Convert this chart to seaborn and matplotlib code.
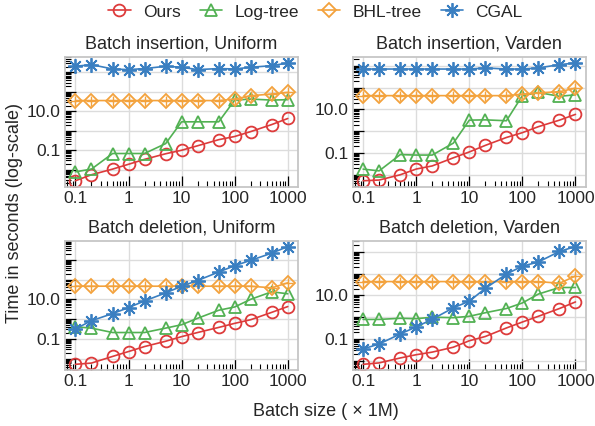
import numpy as np
import matplotlib
matplotlib.use("Agg")
import matplotlib.pyplot as plt
from matplotlib.ticker import LogLocator, FuncFormatter, NullFormatter
import seaborn as sns

batch_sizes = [0.1, 0.2, 0.5, 1, 2, 5, 10, 20, 50, 100, 200, 500, 1000]

titles = ["Batch insertion, Uniform", "Batch insertion, Varden",
          "Batch deletion, Uniform", "Batch deletion, Varden"]

# time in seconds, one list per method and panel
ours = [
    [0.0027, 0.0055, 0.0107, 0.019, 0.034, 0.066, 0.10, 0.17, 0.35, 0.51, 0.91, 2.1, 4.3],
    [0.0052, 0.0056, 0.0098, 0.018, 0.025, 0.059, 0.11, 0.22, 0.51, 0.85, 1.6, 3.2, 5.9],
    [0.0052, 0.006, 0.013, 0.023, 0.041, 0.076, 0.13, 0.21, 0.38, 0.61, 0.93, 2.2, 4.3],
    [0.0069, 0.008, 0.0135, 0.019, 0.025, 0.042, 0.083, 0.13, 0.32, 0.6, 1.1, 2.5, 5.0],
]
log_tree = [
    [0.0078, 0.0107, 0.068, 0.068, 0.068, 0.22, 2.9, 2.9, 2.9, 38, 43, 38, 40],
    [0.0178, 0.0148, 0.083, 0.079, 0.079, 0.28, 3.2, 3.3, 3.0, 43, 60, 40, 47],
    [0.41, 0.35, 0.21, 0.21, 0.21, 0.35, 0.52, 1.1, 2.8, 4.1, 10, 24, 19],
    [0.79, 0.79, 0.89, 0.85, 1.0, 0.95, 1.1, 1.6, 2.5, 4.5, 11.5, 23, 23],
]
bhl_tree = [
    [36, 36, 36, 36, 36, 36, 36, 36, 36, 43, 64, 78, 94],
    [43, 43, 43, 43, 43, 43, 43, 43, 43, 50, 58, 65, 95],
    [46, 46, 46, 46, 46, 46, 46, 46, 46, 46, 46, 38, 68],
    [43, 43, 43, 43, 43, 43, 43, 43, 43, 43, 43, 36, 77],
]
cgal = [
    [2090, 2530, 1520, 1410, 1590, 2090, 1860, 1410, 1590, 1520, 1860, 2240, 3090],
    [720, 720, 720, 720, 720, 720, 720, 810, 720, 720, 810, 1150, 1370],
    [0.32, 0.83, 1.9, 3.8, 8.3, 21, 46, 89, 240, 500, 930, 2150, 4640],
    [0.035, 0.059, 0.17, 0.36, 0.8, 2.7, 5.4, 21, 95, 220, 340, 1040, 1740],
]

sns.set_theme(style="whitegrid")
plt.rcParams["font.family"] = ["Liberation Sans", "DejaVu Sans"]

c_red = "#dd3b3b"
c_green = "#52b153"
c_orange = "#f3a23c"
c_blue = "#3a7fc1"

fig, axes = plt.subplots(2, 2, figsize=(5.95, 4.26), dpi=100)
fig.subplots_adjust(left=0.109, right=0.985, top=0.866, bottom=0.131,
                    wspace=0.232, hspace=0.417)

open_kw = dict(markerfacecolor="none", markersize=8.5, markeredgewidth=1.3, linewidth=1.2)

def ytick_fmt(v, pos):
    if np.isclose(v, 0.1):
        return "0.1"
    if np.isclose(v, 10):
        return "10.0"
    return ""

def xtick_fmt(v, pos):
    return "{:g}".format(v)

for i, ax in enumerate(axes.flat):
    sns.lineplot(x=batch_sizes, y=ours[i], ax=ax, color=c_red, marker="o",
                 markeredgecolor=c_red, label="Ours", legend=False, **open_kw)
    sns.lineplot(x=batch_sizes, y=log_tree[i], ax=ax, color=c_green, marker="^",
                 markeredgecolor=c_green, label="Log-tree", legend=False, **open_kw)
    sns.lineplot(x=batch_sizes, y=bhl_tree[i], ax=ax, color=c_orange, marker="D",
                 markeredgecolor=c_orange, label="BHL-tree", legend=False,
                 markerfacecolor="none", markersize=7.5, markeredgewidth=1.3, linewidth=1.2)
    ax.plot(batch_sizes, bhl_tree[i], linestyle="none", marker="+", color=c_orange,
            markersize=7.5, markeredgewidth=1.0)
    sns.lineplot(x=batch_sizes, y=cgal[i], ax=ax, color=c_blue, marker=(8, 2, 0),
                 markeredgecolor=c_blue, label="CGAL", legend=False,
                 markersize=10.5, markeredgewidth=1.3, linewidth=1.2)

    ax.set_xscale("log")
    ax.set_yscale("log")
    ax.set_title(titles[i], fontsize=13, pad=6)
    ax.set_xlabel("")
    ax.set_ylabel("")

    ax.xaxis.set_major_locator(LogLocator(base=10, numticks=20))
    ax.xaxis.set_minor_locator(LogLocator(base=10, subs=np.arange(2, 10), numticks=20))
    ax.xaxis.set_major_formatter(FuncFormatter(xtick_fmt))
    ax.xaxis.set_minor_formatter(NullFormatter())
    ax.yaxis.set_major_locator(LogLocator(base=10, numticks=20))
    ax.yaxis.set_minor_locator(LogLocator(base=10, subs=np.arange(2, 10), numticks=20))
    ax.yaxis.set_major_formatter(FuncFormatter(ytick_fmt))
    ax.yaxis.set_minor_formatter(NullFormatter())

    ax.tick_params(which="both", direction="in", color="black", left=True, bottom=True,
                   labelsize=12.5, pad=3)
    ax.tick_params(which="major", length=8, width=0.9)
    ax.tick_params(which="minor", length=4, width=0.8)
    ax.grid(True, which="major", color="#dcdcdc", linewidth=1.0)
    ax.grid(False, which="minor")
    for sp in ax.spines.values():
        sp.set_color("#c4c4c4")

handles, labels = axes[0, 0].get_legend_handles_labels()
fig.legend(handles, labels, loc="center", bbox_to_anchor=(0.53, 0.972), ncol=4,
           frameon=False, fontsize=12.5, handlelength=1.3, columnspacing=1.1,
           handletextpad=0.7)

fig.text(0.025, 0.5, "Time in seconds (log-scale)", rotation=90, va="center",
         ha="center", fontsize=13)
fig.text(0.548, 0.035, "Batch size ( × 1M)", ha="center", va="center", fontsize=13)

fig.savefig("out.png", dpi=100)
